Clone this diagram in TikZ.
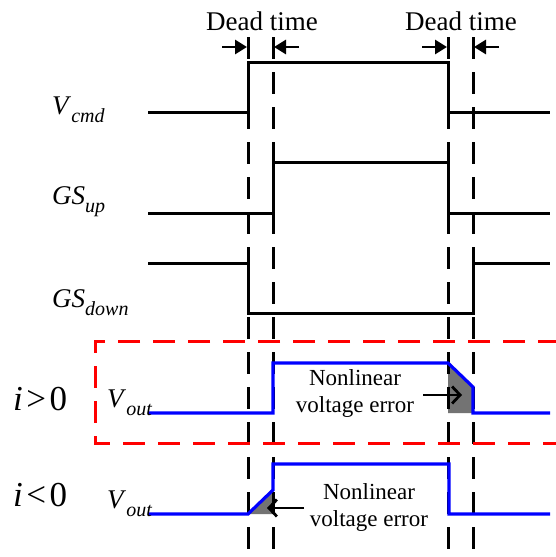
\documentclass[tikz,border=0pt]{standalone}
\usepackage{fontspec}
\setmainfont{Liberation Serif}
\usetikzlibrary{arrows.meta}
\tikzset{
  wave/.style={line width=3pt, line cap=butt, line join=miter},
  bluewave/.style={draw=blue, line width=3.2pt, line join=miter},
  deadline/.style={line width=3pt, dash pattern=on 22pt off 13pt},
  redbox/.style={draw=red, line width=3pt, dash pattern=on 22pt off 13pt},
  errfill/.style={fill=gray!90!black, draw=none},
  dtarrow/.style={line width=2.8pt, -{Triangle[length=12pt,width=14pt]}},
  errarrow/.style={line width=2.8pt, -{Straight Barb[length=8pt,width=17pt,line width=2.8pt]}},
  lbl/.style={inner sep=0pt, font=\fontsize{27}{30}\selectfont},
  dtlbl/.style={inner sep=0pt, font=\fontsize{27}{30}\selectfont},
  errlbl/.style={inner sep=0pt, align=center, font=\fontsize{23}{27}\selectfont},
  ilbl/.style={inner sep=0pt, font=\fontsize{35}{38}\selectfont},
}
\newcommand{\sig}[2]{\textit{#1}\raisebox{-0.33em}{\fontsize{20}{21}\selectfont\textit{#2}}}
\begin{document}
\begin{tikzpicture}[x=1pt,y=-1pt]
\useasboundingbox (0,0) rectangle (556,557);
% gray error areas
\fill[errfill] (448,363) -- (473,387) -- (473,413) -- (448,413) -- cycle;
\fill[errfill] (248,514) -- (273,490) -- (273,514) -- cycle;
% dead-time dashed lines
\coordinate (d1t) at (248,37); \coordinate (d1b) at (248,557);
\coordinate (d2t) at (273,37); \coordinate (d2b) at (273,557);
\coordinate (d3t) at (448,37); \coordinate (d3b) at (448,557);
\coordinate (d4t) at (473,37); \coordinate (d4b) at (473,557);
\draw[deadline] (d1t) -- (d1b);
\draw[deadline] (d2t) -- (d2b);
\draw[deadline] (d3t) -- (d3b);
\draw[deadline] (d4t) -- (d4b);
% dead time arrows
\coordinate (a1s) at (222,47); \coordinate (a1e) at (247,47);
\coordinate (a2s) at (299,47); \coordinate (a2e) at (274,47);
\coordinate (a3s) at (422,47); \coordinate (a3e) at (447,47);
\coordinate (a4s) at (499,47); \coordinate (a4e) at (474,47);
\draw[dtarrow] (a1s) -- (a1e);
\draw[dtarrow] (a2s) -- (a2e);
\draw[dtarrow] (a3s) -- (a3e);
\draw[dtarrow] (a4s) -- (a4e);
\node[dtlbl] (dt1) at (262,21) {Dead time};
\node[dtlbl] (dt2) at (461,21) {Dead time};
% red box
\draw[redbox] (560,341) -- (95,341) -- (95,443) -- (560,443);
% waveforms
\draw[wave] (148,112) -- (248,112) -- (248,62) -- (448,62) -- (448,112) -- (550,112);
\draw[wave] (148,213) -- (273,213) -- (273,162) -- (448,162) -- (448,213) -- (550,213);
\draw[wave] (148,263) -- (248,263) -- (248,313) -- (473,313) -- (473,263) -- (550,263);
\draw[bluewave] (148,413) -- (273,413) -- (273,363) -- (448,363) -- (473,387) -- (473,413) -- (550,413);
\draw[bluewave] (148,514) -- (248,514) -- (273,490) -- (273,464) -- (449,464) -- (449,514) -- (550,514);
% labels
\node[lbl, anchor=base west] (vcmd) at (52,114) {\sig{V}{cmd}};
\node[lbl, anchor=base west] (gsup) at (52,204) {\sig{GS}{up}};
\node[lbl, anchor=base west] (gsdn) at (52,307) {\sig{GS}{down}};
\node[lbl, anchor=base west] (vo1) at (107,407) {\sig{V}{out}};
\node[lbl, anchor=base west] (vo2) at (107,508) {\sig{V}{out}};
\node[ilbl, anchor=base west] (ipos) at (13,410) {\textit{i}\kern3.5pt>\kern3.5pt0};
\node[ilbl, anchor=base west] (ineg) at (13,506) {\textit{i}\kern3.5pt<\kern3.5pt0};
% nonlinear error texts and arrows
\node[errlbl] (e1) at (355,393) {Nonlinear\\voltage error};
\node[errlbl] (e2) at (369,507) {Nonlinear\\voltage error};
\coordinate (ea1) at (423,395); \coordinate (eb1) at (462,395);
\coordinate (ea2) at (304,508); \coordinate (eb2) at (267,508);
\draw[errarrow] (ea1) -- (eb1);
\draw[errarrow] (ea2) -- (eb2);
\end{tikzpicture}
\end{document}
